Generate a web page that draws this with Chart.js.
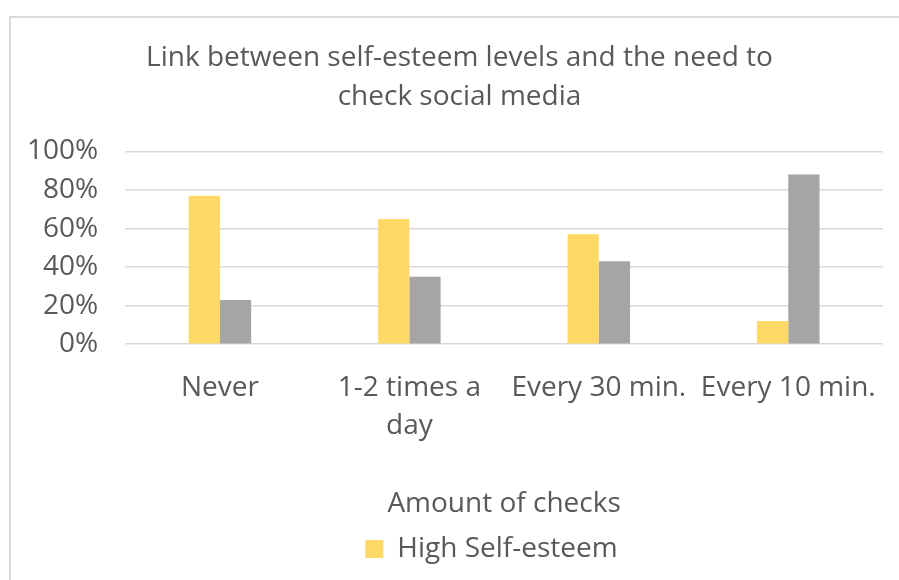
<!DOCTYPE html>
<html>
<head>
<meta charset="utf-8">
<script src="https://cdn.jsdelivr.net/npm/chart.js@4/dist/chart.umd.min.js"></script>
<style>
  html, body { margin: 0; padding: 0; background: #fff; overflow: hidden; }
  #frame { position: absolute; left: 9px; top: 16px; width: 1000px; height: 700px; border-left: 2px solid #d9d9d9; border-top: 2px solid #d9d9d9; }
  #c { position: absolute; left: 0; top: 0; }
</style>
</head>
<body>
<div id="frame"></div>
<canvas id="c" width="899" height="580"></canvas>
<script>
const titleLines = ["Link between self-esteem levels and the need to", "check social media"];
const categories = ["Never", ["1-2 times a", "day"], "Every 30 min.", "Every 10 min."];
const highSelfEsteem = [77, 65, 57, 12];
const lowSelfEsteem = [23, 35, 43, 88];
const seriesNames = ["High Self-esteem", "Low Self-esteem"];
const yTicks = [0, 20, 40, 60, 80, 100];
const xAxisTitle = "Amount of checks";

const FONT = "'Open Sans', 'Noto Sans', sans-serif";
const TXT = "#595959";

// Excel centres the title and legend on the whole chart frame; nudge them.
const boxShift = {
  id: 'boxShift',
  afterLayout(chart) {
    const t = chart.titleBlock;
    if (t) { t.left += 18; t.right += 18; }
    const l = chart.legend;
    if (l) { l.left += 50; l.right += 50; }
  }
};

new Chart(document.getElementById('c'), {
  type: 'bar',
  data: {
    labels: categories,
    datasets: [
      { label: seriesNames[0], data: highSelfEsteem, backgroundColor: '#FFD966', borderWidth: 0 },
      { label: seriesNames[1], data: lowSelfEsteem, backgroundColor: '#A5A5A5', borderWidth: 0 }
    ]
  },
  options: {
    responsive: false,
    animation: false,
    layout: { padding: { left: 0, right: 16, top: 38, bottom: 7 } },
    datasets: { bar: { categoryPercentage: 0.33, barPercentage: 1.0 } },
    plugins: {
      title: {
        display: true,
        text: titleLines,
        color: TXT,
        font: { family: FONT, size: 28, weight: 'normal', lineHeight: 1.4 },
        padding: { top: 0, bottom: 35 }
      },
      legend: {
        position: 'bottom',
        labels: {
          color: TXT,
          font: { family: FONT, size: 28 },
          boxWidth: 18, boxHeight: 18,
          padding: 10,
          filter: (item) => item.datasetIndex === 0
        }
      },
      tooltip: { enabled: false }
    },
    scales: {
      x: {
        grid: { display: false },
        border: { display: false },
        ticks: { color: TXT, font: { family: FONT, size: 28, lineHeight: 1.36 }, maxRotation: 0, autoSkip: false, padding: 17 },
        title: { display: true, text: xAxisTitle, color: TXT, font: { family: FONT, size: 28 }, padding: { top: 25, bottom: 4 } }
      },
      y: {
        min: 0, max: 100,
        afterBuildTicks: (axis) => { axis.ticks = yTicks.map(v => ({ value: v })); },
        grid: { color: '#d9d9d9', lineWidth: 1.5, drawTicks: false },
        border: { display: false },
        ticks: { color: TXT, font: { family: FONT, size: 28 }, padding: 27, callback: (v) => v + '%' }
      }
    }
  },
  plugins: [boxShift]
});
</script>
</body>
</html>
